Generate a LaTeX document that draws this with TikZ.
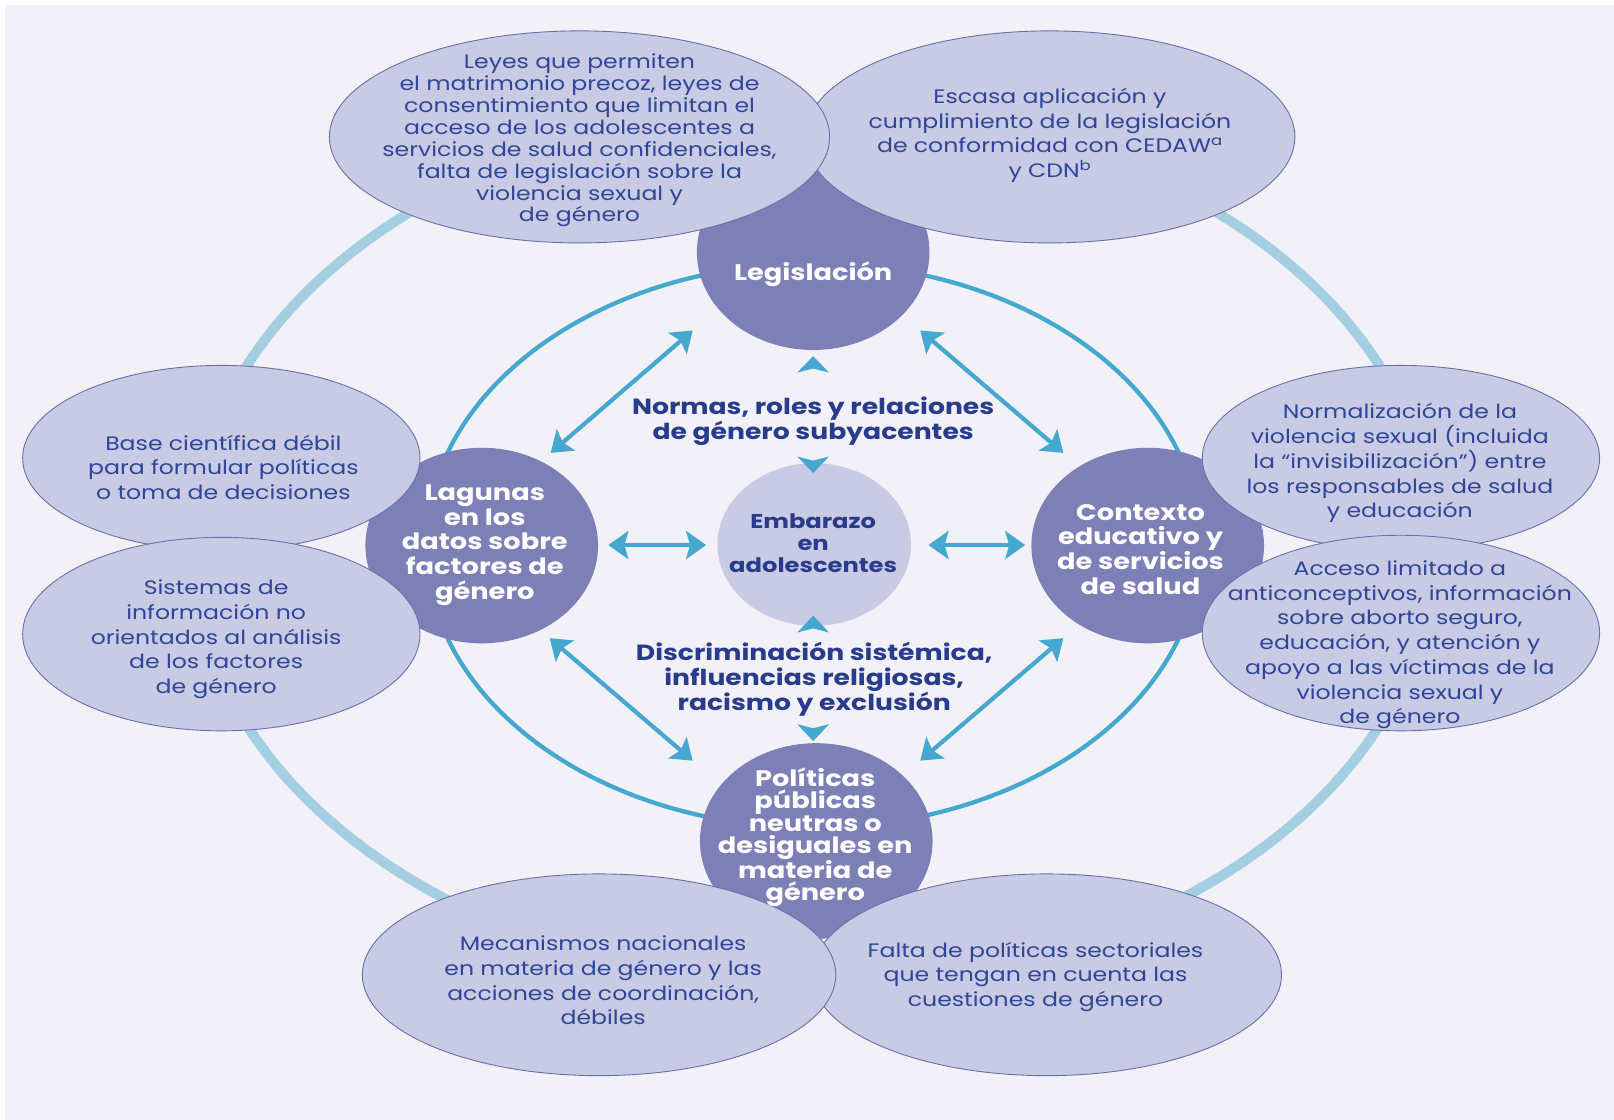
\documentclass[tikz,border=0pt]{standalone}
\usepackage{fontspec}
\setmainfont{Poppins}[FakeStretch=1.21]
\usetikzlibrary{arrows.meta,shapes.geometric}
\definecolor{bgc}{HTML}{F1F1F7}
\definecolor{ringc}{HTML}{A4CFE3}
\definecolor{ablue}{HTML}{45A8CF}
\definecolor{purp}{HTML}{7C80B6}
\definecolor{lilac}{HTML}{C9CAE3}
\definecolor{lborder}{HTML}{6670AE}
\definecolor{tdark}{HTML}{2F4598}
\definecolor{tbold}{HTML}{293B8C}
\begin{document}
\begin{tikzpicture}[x=1.0293pt,y=-1.0293pt,
  shp/.style 2 args={ellipse, inner sep=0pt, minimum width=#1*1.0293pt, minimum height=#2*1.0293pt},
  lil/.style={fill=lilac, draw=lborder, line width=0.9pt},
  pur/.style={fill=purp, draw=none},
  arr/.style={draw=ablue, line width=4.2pt, {Stealth[length=20pt,width=28pt,inset=4pt]}-{Stealth[length=20pt,width=28pt,inset=4pt]}},
  txt/.style={text=tdark, align=center, inner sep=0pt, font=\fontsize{19.5}{24.7}\selectfont},
  btxt/.style={text=tbold, align=center, inner sep=0pt, font=\bfseries\fontsize{22}{25.2}\selectfont},
  wtxt/.style={text=white, align=center, inner sep=0pt, font=\bfseries\fontsize{22.5}{24.7}\selectfont}]
\useasboundingbox (0,0) rectangle (1568,1088);
\fill[white] (0,0) rectangle (1568,1088);
\fill[bgc] (4.5,4.5) rectangle (1568,1088);
% rings
\node[shp={1206}{852}, draw=ringc, line width=10pt] (ring) at (790,530) {};
\node[shp={752}{548}, draw=ablue, line width=4.3pt] (inner) at (790,530) {};
% purple nodes
\node[shp={226}{190}, pur] (leg) at (790,245) {};
\node[shp={226}{190}, pur] (lag) at (468,530) {};
\node[shp={226}{190}, pur] (ctx) at (1115,530) {};
\node[shp={226}{190}, pur] (pol) at (793,817) {};
\node[shp={188}{158}, fill=lilac] (emb) at (791,529) {};
% lilac ellipses
\node[shp={476}{206}, lil] (escasa) at (1020,133) {};
\node[shp={486}{206}, lil] (leyes) at (563,133) {};
\node[shp={386}{180}, lil] (base) at (215,445) {};
\node[shp={386}{188}, lil] (sist) at (215,616) {};
\node[shp={386}{180}, lil] (norm) at (1361,445) {};
\node[shp={386}{190}, lil] (acc) at (1361,615) {};
\node[shp={456}{196}, lil] (falta) at (1017,947) {};
\node[shp={460}{196}, lil] (meca) at (582,947) {};
% arrows
\coordinate (a1s) at (535,440); \coordinate (a1e) at (673,321);
\coordinate (a2s) at (894,321); \coordinate (a2e) at (1033,440);
\coordinate (a3s) at (534,620); \coordinate (a3e) at (673,739);
\coordinate (a4s) at (1033,620); \coordinate (a4e) at (894,739);
\coordinate (h1s) at (591,529.5); \coordinate (h1e) at (686,529.5);
\coordinate (h2s) at (902,529.5); \coordinate (h2e) at (996,529.5);
\draw[arr] (a1s) -- (a1e);
\draw[arr] (a2s) -- (a2e);
\draw[arr] (a3s) -- (a3e);
\draw[arr] (a4s) -- (a4e);
\draw[arr] (h1s) -- (h1e);
\draw[arr] (h2s) -- (h2e);
% small triangles
\fill[ablue] (790,346) -- (805.5,362) -- (790,358) -- (774.5,362) -- cycle;
\fill[ablue] (790,459.5) -- (805.5,443.5) -- (790,447.5) -- (774.5,443.5) -- cycle;
\fill[ablue] (790,598) -- (805.5,614.5) -- (790,610.5) -- (774.5,614.5) -- cycle;
\fill[ablue] (790,720) -- (805.5,703.5) -- (790,707.5) -- (774.5,703.5) -- cycle;
% texts
\node[txt, font=\fontsize{19.5}{21.9}\selectfont] (tleyes) at (563,136.5) {Leyes que permiten\\el matrimonio precoz, leyes de\\consentimiento que limitan el\\acceso de los adolescentes a\\servicios de salud confidenciales,\\falta de legislación sobre la\\violencia sexual y\\de género};
\node[txt] (tescasa) at (1020,131.5) {Escasa aplicación y\\cumplimiento de la legislación\\de conformidad con CEDAW\textsuperscript{a}\\y CDN\textsuperscript{b}};
\node[txt] (tbase) at (217,454) {Base científica débil\\para formular políticas\\o toma de decisiones};
\node[txt] (tsist) at (210,621) {Sistemas de\\información no\\orientados al análisis\\de los factores\\de género};
\node[txt] (tnorm) at (1360,450) {Normalización de la\\violencia sexual (incluida\\la “invisibilización”) entre\\los responsables de salud\\y educación};
\node[txt] (tacc) at (1360,626.5) {Acceso limitado a\\anticonceptivos, información\\sobre aborto seguro,\\educación, y atención y\\apoyo a las víctimas de la\\violencia sexual y\\de género};
\node[txt] (tmeca) at (586,952.5) {Mecanismos nacionales\\en materia de género y las\\acciones de coordinación,\\débiles};
\node[txt] (tfalta) at (1006,949) {Falta de políticas sectoriales\\que tengan en cuenta las\\cuestiones de género};
\node[btxt] (tnormas) at (790,409) {Normas, roles y relaciones\\de género subyacentes};
\node[btxt] (tdisc) at (791,660) {Discriminación sistémica,\\influencias religiosas,\\racismo y exclusión};
\node[wtxt] (tleg) at (790,266) {Legislación};
\node[wtxt] (tlag) at (471,529.5) {Lagunas\\en los\\datos sobre\\factores de\\género};
\node[wtxt] (tctx) at (1108,533.5) {Contexto\\educativo y\\de servicios\\de salud};
\node[wtxt, font=\bfseries\fontsize{22.5}{22.2}\selectfont] (tpol) at (792,813.5) {Políticas\\públicas\\neutras o\\desiguales en\\materia de\\género};
\node[btxt, font=\bfseries\fontsize{20}{22}\selectfont] (temb) at (790,527.5) {Embarazo\\en\\adolescentes};
\end{tikzpicture}
\end{document}
